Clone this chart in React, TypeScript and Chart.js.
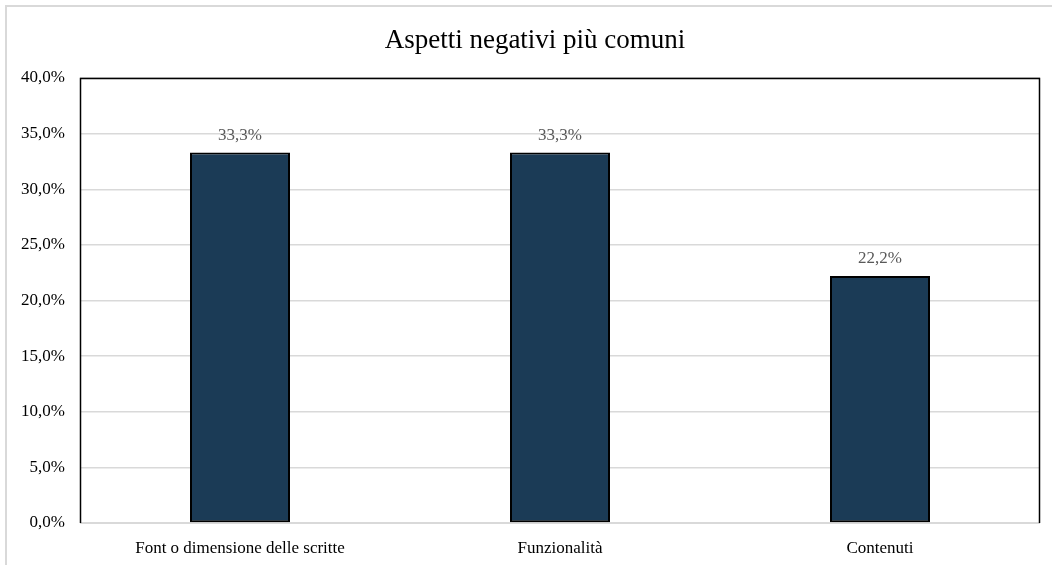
import React, { useEffect, useRef } from "react";
import { Chart, registerables } from "chart.js";

Chart.register(...registerables);

const TITLE = "Aspetti negativi più comuni";
const categories = ["Font o dimensione delle scritte", "Funzionalità", "Contenuti"];
const values = [33.3, 33.3, 22.2];
const yTicks = [0, 5, 10, 15, 20, 25, 30, 35, 40];

const FONT = "'Liberation Serif', 'Times New Roman', serif";
const fmt = (v: number) => `${v.toFixed(1).replace(".", ",")}%`;

// Outer light frame, plot frame, title and value labels
const framePlugin = {
  id: "frame",
  beforeDraw(chart: any) {
    const { ctx } = chart;
    ctx.save();
    ctx.fillStyle = "#ffffff";
    ctx.fillRect(0, 0, chart.width, chart.height);
    ctx.strokeStyle = "#d9d9d9";
    ctx.lineWidth = 2;
    ctx.beginPath();
    ctx.moveTo(6, chart.height);
    ctx.lineTo(6, 6);
    ctx.lineTo(chart.width, 6);
    ctx.stroke();

    ctx.fillStyle = "#000000";
    ctx.font = `27px ${FONT}`;
    ctx.textAlign = "center";
    ctx.textBaseline = "middle";
    ctx.fillText(TITLE, 535, 41);
    ctx.restore();
  },
  beforeDatasetsDraw(chart: any) {
    const { ctx, chartArea } = chart;
    const { left, top, right, bottom } = chartArea;
    ctx.save();
    ctx.strokeStyle = "#d9d9d9";
    ctx.lineWidth = 2;
    ctx.beginPath();
    ctx.moveTo(left, bottom);
    ctx.lineTo(right, bottom);
    ctx.stroke();
    ctx.strokeStyle = "#000000";
    ctx.lineWidth = 1.5;
    ctx.beginPath();
    ctx.moveTo(left + 0.5, bottom);
    ctx.lineTo(left + 0.5, top + 0.5);
    ctx.lineTo(right - 0.5, top + 0.5);
    ctx.lineTo(right - 0.5, bottom);
    ctx.stroke();
    ctx.restore();
  },
  afterDatasetsDraw(chart: any) {
    const { ctx } = chart;
    const meta = chart.getDatasetMeta(0);
    ctx.save();
    ctx.fillStyle = "#595959";
    ctx.font = `17px ${FONT}`;
    ctx.textAlign = "center";
    ctx.textBaseline = "middle";
    meta.data.forEach((bar: any, i: number) => {
      ctx.fillText(fmt(values[i]), bar.x, bar.y - 17);
    });
    ctx.restore();
  },
};

export default function App() {
  const ref = useRef<HTMLCanvasElement | null>(null);

  useEffect(() => {
    if (!ref.current) return;
    const chart = new Chart(ref.current, {
      type: "bar",
      data: {
        labels: categories,
        datasets: [
          {
            data: values,
            backgroundColor: "#1b3b56",
            borderColor: "#000000",
            borderWidth: 2,
            borderSkipped: false,
            categoryPercentage: 1,
            barPercentage: 0.3125,
          },
        ],
      },
      options: {
        animation: false,
        responsive: false,
        devicePixelRatio: 1,
        layout: { padding: { left: 0, right: 12, top: 78, bottom: 0 } },
        plugins: {
          legend: { display: false },
          title: { display: false },
          tooltip: { enabled: false },
        },
        scales: {
          x: {
            grid: { display: false, drawTicks: false },
            border: { display: false },
            ticks: {
              color: "#000000",
              font: { family: FONT, size: 17 },
              padding: 15,
              maxRotation: 0,
            },
            afterFit(scale: any) {
              scale.height = 42;
            },
          },
          y: {
            min: 0,
            max: 40,
            afterBuildTicks(scale: any) {
              scale.ticks = yTicks.map((v) => ({ value: v }));
            },
            grid: { color: "#d9d9d9", lineWidth: 1.5, drawTicks: false },
            border: { display: false },
            ticks: {
              color: "#000000",
              font: { family: FONT, size: 17 },
              padding: 15,
              callback: (v: any) => fmt(Number(v)),
            },
            afterFit(scale: any) {
              scale.width = 80;
            },
          },
        },
      },
      plugins: [framePlugin],
    });
    return () => chart.destroy();
  }, []);

  return (
    <div style={{ position: "fixed", left: 0, top: 0, width: 1052, height: 565, background: "#fff" }}>
      <canvas ref={ref} width={1052} height={565} style={{ display: "block" }} />
    </div>
  );
}
